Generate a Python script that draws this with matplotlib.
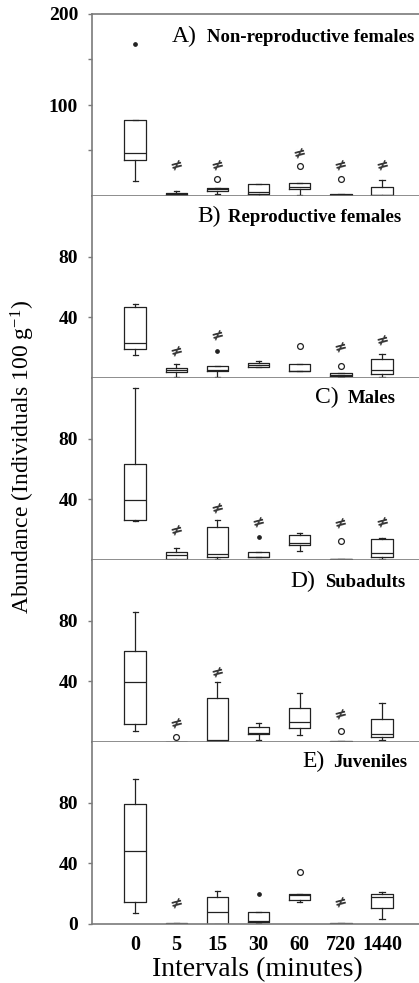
import matplotlib
matplotlib.use("Agg")
import matplotlib.pyplot as plt

# ---------------- data ----------------
intervals = ['0', '5', '15', '30', '60', '720', '1440']
panel_letters = ['A)', 'B)', 'C)', 'D)', 'E)']
panel_names = ['Non-reproductive females', 'Reproductive females', 'Males',
               'Subadults', 'Juveniles']

# box statistics per panel: whisker low, Q1, median, Q3, whisker high
A_lo  = [16.7, 0.0, 2.6, 0.0, 1.5, 0.0, 0.0]
A_q1  = [40.0, 1.5, 5.2, 2.6, 8.0, 0.0, 0.7]
A_med = [47.0, 2.5, 8.0, 4.4, 9.6, 1.0, 1.5]
A_q3  = [84.0, 3.3, 9.3, 13.7, 14.0, 2.6, 10.0]
A_hi  = [84.0, 5.5, 9.3, 13.7, 14.0, 2.6, 17.4]

B_lo  = [15.3, 0.5, 0.5, 7.2, 4.8, 0.5, 0.5]
B_q1  = [19.3, 3.9, 4.4, 7.2, 4.8, 1.1, 2.9]
B_med = [23.0, 5.2, 5.0, 8.5, 4.8, 2.0, 5.0]
B_q3  = [47.0, 6.6, 7.7, 9.8, 9.0, 3.3, 12.5]
B_hi  = [48.8, 9.0, 7.7, 11.4, 9.0, 3.3, 15.5]

C_lo  = [25.5, 0.0, 0.5, 2.0, 6.2, 0.2, 0.5]
C_q1  = [26.7, 0.9, 1.8, 2.0, 9.8, 0.3, 2.0]
C_med = [39.3, 3.0, 4.0, 2.0, 11.4, 0.5, 4.6]
C_q3  = [63.4, 5.2, 21.9, 5.5, 16.6, 0.7, 13.8]
C_hi  = [113.4, 7.9, 26.2, 5.5, 17.7, 0.7, 14.4]

D_lo  = [7.1, 0.0, 0.9, 1.6, 4.7, 0.0, 1.4]
D_q1  = [12.1, 0.0, 0.9, 5.3, 9.0, 0.2, 3.4]
D_med = [39.6, 0.0, 1.5, 6.0, 13.0, 0.3, 5.1]
D_q3  = [59.8, 0.0, 29.3, 9.7, 22.7, 0.5, 15.0]
D_hi  = [85.5, 0.0, 39.4, 12.3, 32.4, 0.5, 26.0]

E_lo  = [7.0, 0.0, 0.0, 0.5, 14.6, 0.0, 3.0]
E_q1  = [14.6, 0.0, 0.0, 1.5, 15.7, 0.0, 10.7]
E_med = [48.3, 0.3, 8.1, 2.2, 19.0, 0.3, 18.0]
E_q3  = [78.9, 0.6, 17.9, 8.1, 19.7, 0.6, 19.5]
E_hi  = [95.9, 0.6, 22.0, 8.1, 19.7, 0.6, 21.2]

# outliers (open circles) and extremes (filled dots): (interval index, value)
A_circles = [(2, 18.5), (4, 33.0), (5, 18.5)]
A_dots = [(0, 167.0)]
B_circles = [(4, 21.2), (5, 7.7)]
B_dots = [(2, 17.7)]
C_circles = [(5, 12.7)]
C_dots = [(3, 15.3)]
D_circles = [(1, 3.1), (5, 7.1)]
D_dots = []
E_circles = [(4, 34.0)]
E_dots = [(3, 20.1)]

# significance marks (≠): (interval index, value)
A_sig = [(1, 34), (2, 34), (4, 47), (5, 34), (6, 34)]
B_sig = [(1, 18), (2, 28.6), (5, 20.3), (6, 25)]
C_sig = [(1, 20), (2, 34.5), (3, 25), (5, 24.5), (6, 25)]
D_sig = [(1, 12.6), (2, 46), (5, 18.3)]
E_sig = [(1, 13.6), (5, 14.6)]

ylims = [200, 120, 120, 120, 120]
yticks = [[100, 200], [40, 80], [40, 80], [40, 80], [0, 40, 80]]

# ---------------- drawing ----------------
W, H = 419, 983
plt.rcParams['font.family'] = ['Liberation Serif', 'DejaVu Serif']
plt.rcParams['mathtext.fontset'] = 'custom'
plt.rcParams['mathtext.rm'] = 'Liberation Serif'
fig = plt.figure(figsize=(W / 100, H / 100), dpi=100)

stats_all = [
    (A_lo, A_q1, A_med, A_q3, A_hi, A_circles, A_dots, A_sig),
    (B_lo, B_q1, B_med, B_q3, B_hi, B_circles, B_dots, B_sig),
    (C_lo, C_q1, C_med, C_q3, C_hi, C_circles, C_dots, C_sig),
    (D_lo, D_q1, D_med, D_q3, D_hi, D_circles, D_dots, D_sig),
    (E_lo, E_q1, E_med, E_q3, E_hi, E_circles, E_dots, E_sig),
]

top_px, bot_px = 14, 924
ph = (bot_px - top_px) / 5
left_px = 92
spine_col = '#7a7a7a'
ink = '#222222'
pos = list(range(len(intervals)))

letter_x = [172, 197, 315, 290, 302]
name_x = [207, 228, 348, 325, 333]
base_y = [42, 222, 403, 587, 767]

for i, (lo, q1, med, q3, hi, circ, dots, sig) in enumerate(stats_all):
    y0 = top_px + i * ph
    ax = fig.add_axes([left_px / W, 1 - (y0 + ph) / H, 1 - left_px / W, ph / H])
    bxp_stats = []
    for k in range(len(intervals)):
        bxp_stats.append(dict(whislo=lo[k], q1=q1[k], med=med[k], q3=q3[k],
                              whishi=hi[k], fliers=[]))
    ax.bxp(bxp_stats, positions=pos, widths=0.52, capwidths=0.13,
           showfliers=False, patch_artist=False,
           boxprops=dict(color=ink, linewidth=0.9),
           medianprops=dict(color=ink, linewidth=0.9),
           whiskerprops=dict(color=ink, linewidth=0.9),
           capprops=dict(color=ink, linewidth=0.9))
    if circ:
        ax.plot([pos[c[0]] for c in circ], [c[1] for c in circ], 'o',
                ms=4.2, mfc='none', mec=ink, mew=0.9, linestyle='none')
    if dots:
        ax.plot([pos[d[0]] for d in dots], [d[1] for d in dots], 'o',
                ms=2.4, color=ink, linestyle='none')
    for s in sig:
        ax.text(pos[s[0]], s[1], '≠', ha='center', va='center', fontsize=11,
                fontweight='bold', family=['DejaVu Sans'], color='#333333',
                rotation=15)
    ax.set_xlim(-1.05, 6.9)
    ax.set_ylim(0, ylims[i])
    ax.set_yticks(yticks[i])
    if i == 0:
        ax.set_yticks([50, 150], minor=True)
    ax.tick_params(axis='y', which='both', direction='out', length=3,
                   width=1, color=spine_col, pad=7)
    ax.tick_params(axis='y', labelsize=14)
    for lab in ax.get_yticklabels():
        lab.set_fontweight('bold')
    ax.spines['right'].set_visible(False)
    if i != 0:
        ax.spines['top'].set_visible(False)
    for side in ['left', 'bottom', 'top']:
        ax.spines[side].set_color(spine_col)
        ax.spines[side].set_linewidth(1.2)
    if i == 4:
        ax.set_xticks(pos)
        ax.set_xticklabels(intervals, fontsize=14.5, fontweight='bold')
        ax.tick_params(axis='x', length=0, pad=8)
    else:
        ax.set_xticks([])
    fig.text(letter_x[i] / W, 1 - base_y[i] / H, panel_letters[i],
             fontsize=17, va='baseline', ha='left')
    fig.text(name_x[i] / W, 1 - base_y[i] / H, panel_names[i],
             fontsize=13.5, fontweight='bold', va='baseline', ha='left')

fig.text(23 / W, 1 - 457 / H, r'Abundance (Individuals 100 g$\mathregular{^{-1}}$)',
         rotation=90, ha='center', va='center', fontsize=17)
fig.text(257 / W, 1 - 976 / H, 'Intervals (minutes)', ha='center',
         va='baseline', fontsize=20)

fig.savefig('out.png', dpi=100)
